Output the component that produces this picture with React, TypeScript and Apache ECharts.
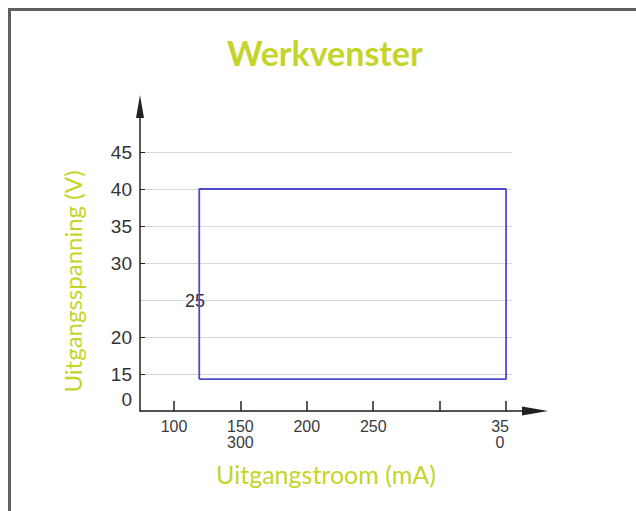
import React, { useEffect, useRef } from "react";
import * as echarts from "echarts";

const titleText = "Werkvenster";
const xName = "Uitgangstroom (mA)";
const yName = "Uitgangsspanning (V)";

// Axis tick positions (mA) and label positions
const xTickValues = [100, 150, 200, 250, 300, 350];
const xLabelValues = [100, 150, 200, 250, 350];
const xLabelTexts: Record<number, string> = { 100: "100", 150: "150\n300", 200: "200", 250: "250", 350: "{s|35}\n{s|0}" };

// Voltage ticks and labels
const yTickValues = [15, 20, 30, 35, 40, 45];
const yLabelValues = [11.6, 15, 20, 30, 35, 40, 45];
const yLabelTexts: Record<number, string> = { 11.6: "0", 15: "15", 20: "20", 30: "30", 35: "35", 40: "40", 45: "45" };
const yInnerLabelValues = [24.8];
const yInnerLabelTexts: Record<number, string> = { 24.8: "25" };

// Working window rectangle (current mA, voltage V)
const rectCurrent = [119, 350, 350, 119, 119];
const rectVoltage = [14.3, 14.3, 40, 40, 14.3];

const GREEN = "#c5d42b";
const AXIS = "#222";

export default function App() {
  const ref = useRef<HTMLDivElement>(null);
  useEffect(() => {
    if (!ref.current) return;
    const chart = echarts.init(ref.current, undefined, { renderer: "svg" });
    const rectData = rectCurrent.map((c, i) => [c, rectVoltage[i]]);
    chart.setOption({
      animation: false,
      backgroundColor: "#fff",
      title: {
        text: titleText,
        left: 222,
        top: 30,
        textStyle: { fontFamily: "Lato", fontWeight: "bold", fontSize: 34, color: GREEN },
      },
      grid: [
        { left: 140, right: 101, top: 106.5, bottom: 100 },
        { left: 140, right: 124, top: 152, bottom: 100 },
      ],
      xAxis: [
        {
          type: "value",
          gridIndex: 0,
          min: 74.4,
          max: 371.8,
          splitLine: { show: false },
          axisLine: {
            show: true,
            lineStyle: { color: AXIS, width: 1.5 },
            symbol: ["none", "triangle"],
            symbolSize: [9, 26],
          },
          axisTick: {
            show: true,
            inside: true,
            length: 10,
            customValues: xTickValues,
            lineStyle: { color: AXIS, width: 1.5 },
          },
          axisLabel: {
            show: true,
            customValues: xLabelValues,
            margin: 7,
            fontFamily: "Liberation Sans",
            fontSize: 16,
            lineHeight: 16,
            color: "#3a3a3a",
            formatter: (v: number) => xLabelTexts[v] ?? "",
            rich: {
              s: {
                fontFamily: "Liberation Sans",
                fontSize: 16,
                lineHeight: 16,
                color: "#3a3a3a",
                padding: [0, 12, 0, 0],
              },
            },
          },
        },
        {
          type: "value",
          gridIndex: 1,
          min: 74.4,
          max: 355,
          axisLine: { show: false },
          axisTick: { show: false },
          axisLabel: { show: false },
          splitLine: { show: false },
          name: xName,
          nameLocation: "middle",
          nameGap: 50,
          nameTextStyle: { fontFamily: "Lato", fontSize: 25, color: GREEN },
        },
      ],
      yAxis: [
        {
          type: "value",
          gridIndex: 0,
          min: 10,
          max: 51.15,
          splitLine: { show: false },
          axisLine: {
            show: true,
            lineStyle: { color: AXIS, width: 1.5 },
            symbol: ["none", "triangle"],
            symbolSize: [8, 23],
          },
          axisTick: {
            show: true,
            inside: true,
            length: 5,
            customValues: yTickValues,
            lineStyle: { color: AXIS, width: 1 },
          },
          axisLabel: {
            show: true,
            customValues: yLabelValues,
            margin: 8,
            fontFamily: "Liberation Sans",
            fontSize: 19,
            color: "#333",
            formatter: (v: number) => yLabelTexts[v] ?? "",
          },
        },
        {
          type: "value",
          gridIndex: 0,
          position: "left",
          offset: -73,
          min: 10,
          max: 51.15,
          splitLine: { show: false },
          axisLine: { show: false },
          axisTick: { show: false },
          axisLabel: {
            show: true,
            customValues: yInnerLabelValues,
            margin: 8,
            fontFamily: "Liberation Sans",
            fontSize: 18,
            color: "#333",
            formatter: (v: number) => yInnerLabelTexts[v] ?? "",
          },
        },
        {
          type: "value",
          gridIndex: 1,
          min: 10,
          max: 45,
          interval: 5,
          axisLine: { show: false },
          axisTick: { show: false },
          axisLabel: { show: false },
          splitLine: { show: true, lineStyle: { color: "#d6d6d6", width: 1.2 } },
          name: yName,
          nameLocation: "middle",
          nameGap: 56,
          nameTextStyle: { fontFamily: "Lato", fontSize: 24, color: GREEN },
        },
      ],
      series: [
        {
          type: "line",
          xAxisIndex: 0,
          yAxisIndex: 0,
          data: rectData,
          showSymbol: false,
          symbol: "none",
          lineStyle: { color: "#4b4bcc", width: 1.8 },
          z: 5,
        },
      ],
      graphic: [
        { type: "line", shape: { x1: 9.5, y1: 9, x2: 9.5, y2: 511 }, style: { stroke: "#606060", lineWidth: 3 } },
        { type: "line", shape: { x1: 8, y1: 9.5, x2: 636, y2: 9.5 }, style: { stroke: "#606060", lineWidth: 3 } },
      ],
    });
    return () => chart.dispose();
  }, []);
  return (
    <div
      ref={ref}
      style={{ position: "fixed", left: 0, top: 0, width: 636, height: 511 }}
    />
  );
}
